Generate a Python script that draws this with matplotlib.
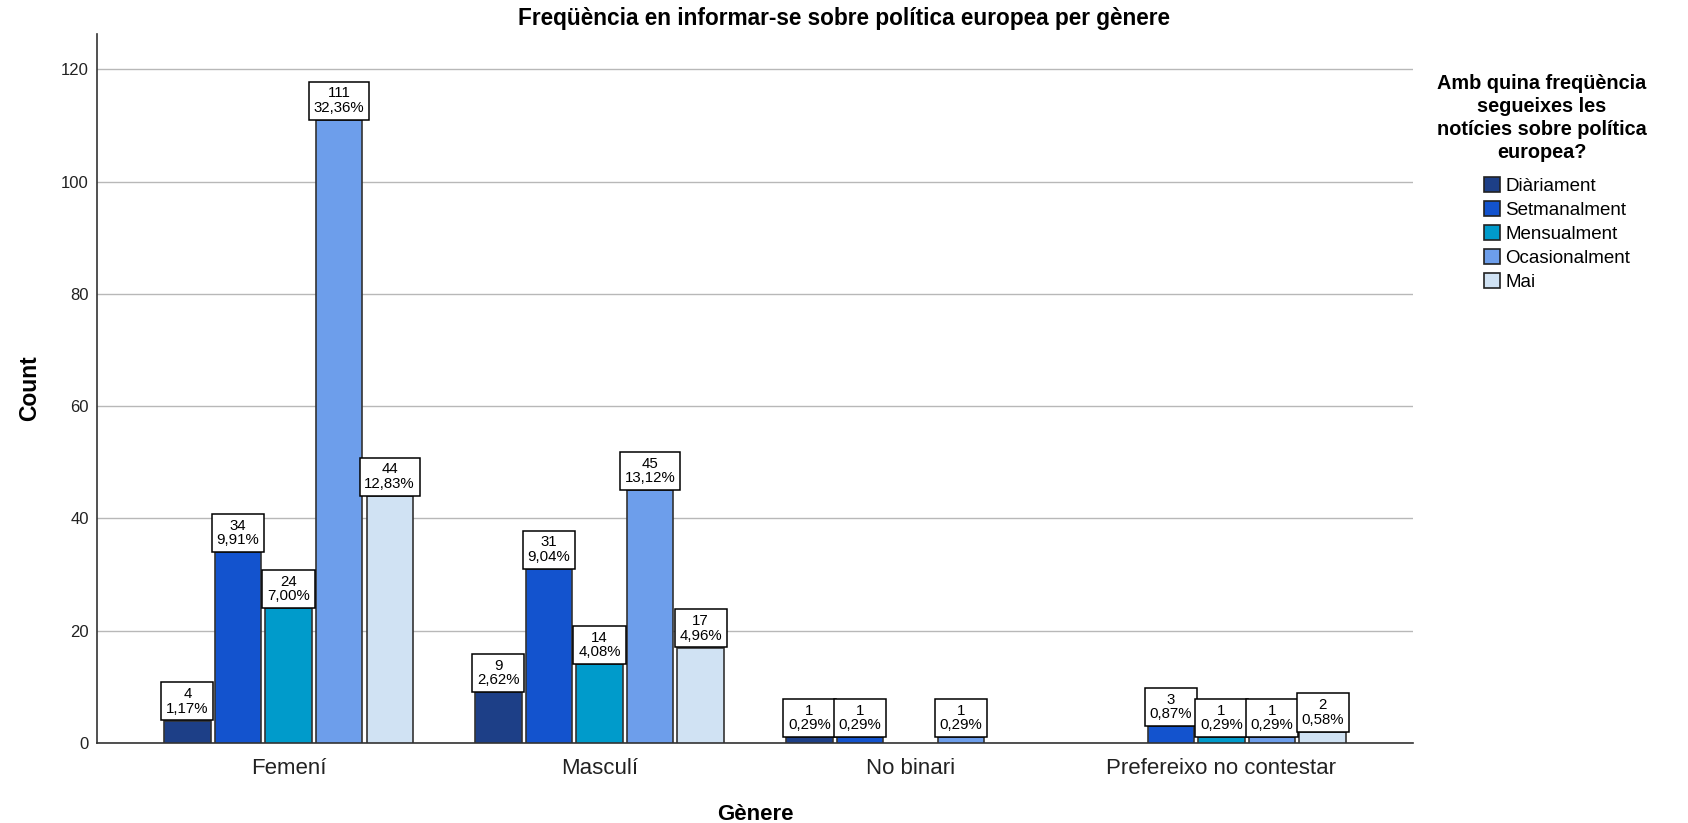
import matplotlib
matplotlib.use("Agg")
import matplotlib.pyplot as plt
import numpy as np
from matplotlib.patches import Patch

plt.rcParams['font.family'] = ['Liberation Sans', 'DejaVu Sans']

genders = ["Femení", "Masculí", "No binari", "Prefereixo no contestar"]
series = ["Diàriament", "Setmanalment", "Mensualment", "Ocasionalment", "Mai"]
diariament = [4, 9, 1, 0]
setmanalment = [34, 31, 1, 3]
mensualment = [24, 14, 0, 1]
ocasionalment = [111, 45, 1, 1]
mai = [44, 17, 0, 2]
colors = ["#1d3f87", "#1353ce", "#009bcb", "#6d9eeb", "#d0e2f3"]
yticks = [0, 20, 40, 60, 80, 100, 120]

values = [diariament, setmanalment, mensualment, ocasionalment, mai]
total = sum(sum(v) for v in values)

fig = plt.figure(figsize=(16.88, 8.23), dpi=100)
ax = fig.add_axes([97/1688, 1-743/823, (1413-97)/1688, (743-34)/823])

x = np.arange(len(genders))
step = 0.1626
width = 0.149
for i, (name, vals, c) in enumerate(zip(series, values, colors)):
    pos = x + (i - 2) * step
    for p, v in zip(pos, vals):
        if v <= 0:
            continue
        ax.bar(p, v, width=width, color=c, edgecolor="#333333", linewidth=1.2, zorder=3)
        pct = f"{v/total*100:.2f}".replace(".", ",") + "%"
        ax.annotate(f"{v}\n{pct}", xy=(p, v), xytext=(0, 3.6), textcoords="offset points",
                    ha="center", va="bottom", fontsize=10.8, linespacing=1.05, zorder=5,
                    bbox=dict(boxstyle="square,pad=0.32", fc="white", ec="black", lw=1.1))

ax.set_xlim(-0.616, 3.616)
ax.set_ylim(0, 126.3)
ax.set_yticks(yticks)
ax.set_xticks(x)
ax.set_xticklabels(genders, fontsize=16, color="#222222")
ax.tick_params(axis="y", labelsize=12, length=0, pad=6, colors="#222222")
ax.tick_params(axis="x", length=0, pad=11)
ax.grid(axis="y", color="#b8b8b8", linewidth=1.0, zorder=0)
ax.set_axisbelow(True)
for s in ["top", "right"]:
    ax.spines[s].set_visible(False)
ax.spines["left"].set_color("#333333")
ax.spines["bottom"].set_color("#333333")
ax.spines["left"].set_linewidth(1.2)
ax.spines["bottom"].set_linewidth(1.2)

ax.set_ylabel("Count", fontsize=16.5, fontweight="bold", labelpad=14)
ax.set_xlabel("Gènere", fontsize=16, fontweight="bold", labelpad=18)
fig.text(0.5, 1-19/823, "Freqüència en informar-se sobre política europea per gènere",
         ha="center", va="center", fontsize=16.3, fontweight="bold")

fig.text(1542/1688, 1-74/823,
         "Amb quina freqüència\nsegueixes les\nnotícies sobre política\neuropea?",
         ha="center", va="top", multialignment="center", fontsize=14.3,
         fontweight="bold", linespacing=1.27)

handles = [Patch(facecolor=c, edgecolor="#222222", linewidth=1.2) for c in colors]
leg = fig.legend(handles, series, loc="upper left", bbox_to_anchor=(1484/1688, 1-177/823),
                 frameon=False, fontsize=13.5, handlelength=0.85, handleheight=0.85,
                 handletextpad=0.3, labelspacing=0.32, borderpad=0, borderaxespad=0)

fig.savefig("out.png", dpi=100)
